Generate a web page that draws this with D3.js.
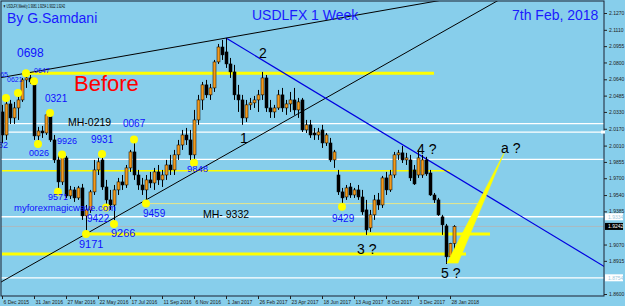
<!DOCTYPE html>
<html>
<head>
<meta charset="utf-8">
<script src="https://cdn.jsdelivr.net/npm/d3@7/dist/d3.min.js"></script>
<style>
  body { margin: 0; background: #87ceeb; overflow: hidden; }
  svg { display: block; font-family: "Liberation Sans", Arial, sans-serif; }
</style>
</head>
<body>
<div id="wrapper"></div>
<script>
// Weekly candles, first bar = week of 6 Dec 2015
const FIRST_WEEK = new Date(2015, 11, 6);
const opens = [
  2.0330, 2.0111, 2.0406, 2.0273, 2.0368, 2.0444, 2.0634, 2.0653, 2.0615, 2.0102,
  2.0149, 2.0130, 2.0302, 2.0064, 1.9874, 1.9665, 1.9893, 1.9532, 1.9589, 1.9513,
  1.9608, 1.9342, 1.9399, 1.9570, 1.9779, 1.9874, 1.9617, 1.9494, 1.9446, 1.9589,
  1.9665, 1.9636, 1.9798, 1.9950, 1.9731, 1.9636, 1.9589, 1.9684, 1.9655, 1.9760,
  1.9684, 1.9731, 1.9826, 1.9779, 1.9922, 2.0016, 2.0111, 2.0064, 1.9922, 2.0254,
  2.0444, 2.0587, 2.0492, 2.0558, 2.0805, 2.0947, 2.0900, 2.0786, 2.0710, 2.0492,
  2.0444, 2.0273, 2.0397, 2.0416, 2.0444, 2.0492, 2.0653, 2.0368, 2.0330, 2.0368,
  2.0492, 2.0368, 2.0406, 2.0444, 2.0349, 2.0444, 2.0159, 2.0207, 2.0130, 2.0111,
  2.0159, 2.0035, 2.0035, 1.9874, 1.9731, 1.9570, 1.9522, 1.9617, 1.9541, 1.9589,
  1.9522, 1.9399, 1.9228, 1.9352, 1.9494, 1.9446, 1.9703, 1.9589, 1.9731, 1.9922,
  1.9941, 1.9874, 1.9874, 1.9779, 1.9731, 1.9731, 1.9874, 1.9750, 1.9541, 1.9494,
  1.9333, 1.9247, 1.8953, 1.9081
];
const highs = [
  2.0397, 2.0463, 2.0444, 2.0425, 2.0511, 2.0653, 2.0700, 2.0681, 2.0625, 2.0188,
  2.0197, 2.0321, 2.0321, 2.0111, 1.9922, 1.9926, 1.9912, 1.9627, 1.9617, 1.9627,
  1.9646, 1.9446, 1.9589, 1.9874, 1.9893, 1.9931, 1.9684, 1.9589, 1.9636, 1.9703,
  1.9731, 1.9826, 1.9969, 2.0067, 1.9779, 1.9703, 1.9731, 1.9760, 1.9798, 1.9826,
  1.9779, 1.9874, 1.9922, 1.9969, 2.0064, 2.0159, 2.0178, 2.0159, 2.0349, 2.0492,
  2.0615, 2.0634, 2.0596, 2.0824, 2.0976, 2.1014, 2.1032, 2.0843, 2.0777, 2.0587,
  2.0492, 2.0444, 2.0463, 2.0482, 2.0539, 2.0710, 2.0681, 2.0444, 2.0397, 2.0539,
  2.0558, 2.0444, 2.0520, 2.0558, 2.0463, 2.0463, 2.0254, 2.0254, 2.0178, 2.0178,
  2.0207, 2.0130, 2.0083, 1.9969, 1.9779, 1.9608, 1.9636, 1.9655, 1.9608, 1.9636,
  1.9589, 1.9494, 1.9399, 1.9541, 1.9560, 1.9722, 1.9760, 1.9779, 1.9950, 1.9969,
  2.0007, 1.9941, 1.9922, 1.9826, 1.9969, 1.9922, 1.9903, 1.9779, 1.9560, 1.9513,
  1.9352, 1.9266, 1.9086, 1.9254
];
const lows = [
  2.0035, 2.0064, 2.0216, 2.0216, 2.0254, 2.0425, 2.0558, 2.0596, 2.0064, 2.0026,
  2.0083, 2.0111, 2.0045, 1.9845, 1.9571, 1.9636, 1.9513, 1.9503, 1.9475, 1.9494,
  1.9304, 1.9171, 1.9371, 1.9541, 1.9731, 1.9589, 1.9422, 1.9399, 1.9266, 1.9541,
  1.9589, 1.9608, 1.9760, 1.9684, 1.9589, 1.9541, 1.9459, 1.9608, 1.9589, 1.9636,
  1.9617, 1.9684, 1.9731, 1.9731, 1.9874, 1.9969, 2.0016, 1.9874, 1.9848, 2.0207,
  2.0349, 2.0463, 2.0444, 2.0520, 2.0786, 2.0824, 2.0748, 2.0653, 2.0444, 2.0330,
  2.0207, 2.0235, 2.0349, 2.0368, 2.0330, 2.0444, 2.0330, 2.0273, 2.0273, 2.0349,
  2.0330, 2.0302, 2.0330, 2.0302, 2.0273, 2.0140, 2.0130, 2.0083, 2.0064, 2.0064,
  1.9988, 2.0007, 1.9855, 1.9798, 1.9541, 1.9429, 1.9494, 1.9513, 1.9513, 1.9494,
  1.9352, 1.9162, 1.9190, 1.9304, 1.9399, 1.9418, 1.9541, 1.9570, 1.9703, 1.9874,
  1.9845, 1.9826, 1.9674, 1.9636, 1.9703, 1.9703, 1.9722, 1.9532, 1.9465, 1.9342,
  1.9162, 1.8885, 1.8904, 1.9022
];
const closes = [
  2.0111, 2.0406, 2.0273, 2.0368, 2.0444, 2.0634, 2.0653, 2.0615, 2.0102, 2.0149,
  2.0130, 2.0302, 2.0064, 1.9874, 1.9665, 1.9922, 1.9532, 1.9589, 1.9513, 1.9608,
  1.9342, 1.9399, 1.9570, 1.9779, 1.9855, 1.9617, 1.9494, 1.9446, 1.9589, 1.9665,
  1.9636, 1.9798, 1.9950, 1.9731, 1.9636, 1.9589, 1.9684, 1.9655, 1.9760, 1.9684,
  1.9731, 1.9826, 1.9779, 1.9922, 2.0016, 2.0111, 2.0064, 1.9922, 2.0254, 2.0444,
  2.0587, 2.0492, 2.0558, 2.0805, 2.0947, 2.0872, 2.0786, 2.0710, 2.0492, 2.0444,
  2.0273, 2.0397, 2.0416, 2.0444, 2.0492, 2.0653, 2.0368, 2.0330, 2.0368, 2.0492,
  2.0368, 2.0406, 2.0444, 2.0349, 2.0425, 2.0159, 2.0207, 2.0111, 2.0111, 2.0140,
  2.0035, 2.0111, 1.9874, 1.9950, 1.9570, 1.9513, 1.9608, 1.9541, 1.9589, 1.9522,
  1.9380, 1.9209, 1.9352, 1.9494, 1.9446, 1.9703, 1.9589, 1.9731, 1.9922, 1.9941,
  1.9874, 1.9893, 1.9703, 1.9646, 1.9893, 1.9874, 1.9741, 1.9541, 1.9494, 1.9352,
  1.9257, 1.8953, 1.9081, 1.9242
];

const priceTicks = [2.1270, 2.1110, 2.0955, 2.0800, 2.0640, 2.0485, 2.0330, 2.0170,
  2.0010, 1.9855, 1.9700, 1.9540, 1.9385, 1.9070, 1.8915, 1.8600];
const dateTickWeeks = d3.range(0, 114, 8);

// Horizontal levels
const whiteLevels = [2.0219, 2.0139, 1.9879, 1.9334, 1.8754];
const yellowLevels = [2.0698, 1.9771, 1.9459, 1.9171, 1.8979];
const yellowFrom = [6, 0, 36, 21, 0];
const yellowTo = [108, 112, 119, 122, 116];
const currentPrice = 1.9242;

// Trend lines as [week, price] pairs
const blackTrend1 = [[6, 2.0698], [56, 2.1032]];
const blackTrend2 = [[21, 1.9171], [100, 2.0872]];
const blueTrend = [[56, 2.1032], [100, 2.0022]];
const yellowWedge = [[111.25, 1.8894], [114, 1.8894], [125.5, 1.9939]];

// Swing points
const swingWeeks = [1, 4, 6, 8, 9, 12, 14, 15, 21, 25, 26, 28, 33, 36, 48, 85];
const swingPrices = [2.0463, 2.0511, 2.0698, 2.0621, 2.0026, 2.0321, 1.9571, 1.9926,
  1.9171, 1.9931, 1.9422, 1.9266, 2.0067, 1.9459, 1.9848, 1.9429];

// Price labels [text, week, price, size]
const blueLabels = [
  ["0698", 3.75, 2.0852, 12], ["0647", 8, 2.0700, 7], ["0621", 1.25, 2.0615, 7],
  ["0321", 10.75, 2.0425, 10], ["0026", 6.75, 1.9912, 9], ["9926", 13.75, 2.0026, 9],
  ["9931", 22.25, 2.0035, 10], ["0067", 30.25, 2.0188, 10], ["9571", 11.5, 1.9494, 9],
  ["9848", 46.25, 1.9760, 9.5], ["9422", 21.25, 1.9281, 10], ["9171", 19.25, 1.9038, 11],
  ["9266", 27.25, 1.9143, 11], ["9459", 35.25, 1.9333, 10], ["9429", 82.5, 1.9285, 10],
  ["myforexmagicwave.com", 3, 1.9390, 9.5]
];
const blueEndLabels = [["0665", 1.5, 2.0662, 7], ["0032", 1.5, 1.9988, 9]];
const blackLabels = [
  ["MH-0219", 16.5, 2.0197, 10.5], ["MH- 9332", 50.25, 1.9323, 10.5],
  ["2", 64.25, 2.0843, 14], ["1", 59.5, 2.0035, 14], ["4 ?", 103.75, 1.9931, 14],
  ["a ?", 124.75, 1.9941, 14], ["3 ?", 88.75, 1.8981, 14], ["5 ?", 109.75, 1.8753, 14]
];

const WIDTH = 625;
const HEIGHT = 306;
const plot = { left: 1, top: 1, right: 604, bottom: 296 };

const svg = d3.select("#wrapper").append("svg")
  .attr("width", WIDTH)
  .attr("height", HEIGHT);

svg.append("rect").attr("width", WIDTH).attr("height", HEIGHT).attr("fill", "#87ceeb");

svg.append("clipPath").attr("id", "plotClip")
  .append("rect")
  .attr("x", plot.left).attr("y", plot.top)
  .attr("width", plot.right - plot.left).attr("height", plot.bottom - plot.top);

const xScale = d3.scaleLinear().domain([0, 113]).range([2, 454]);
const yScale = d3.scaleLinear().domain([1.8600, 2.1270]).range([294, 13]);

const g = svg.append("g").attr("clip-path", "url(#plotClip)");

// Horizontal level lines
g.selectAll(".white-level")
  .data(whiteLevels)
  .join("line")
  .attr("x1", plot.left).attr("x2", plot.right)
  .attr("y1", d => yScale(d)).attr("y2", d => yScale(d))
  .attr("stroke", "#ffffff").attr("stroke-width", 1.3);

g.append("line")
  .attr("x1", plot.left).attr("x2", plot.right)
  .attr("y1", yScale(currentPrice)).attr("y2", yScale(currentPrice))
  .attr("stroke", "#b4b4b4").attr("stroke-width", 0.8);

const yellowWidths = [3, 1.5, 1, 3, 3];
const yellowColors = ["#ffff00", "#ffff00", "#e6e68a", "#ffff00", "#ffff00"];
g.selectAll(".yellow-level")
  .data(yellowLevels)
  .join("line")
  .attr("x1", (d, k) => Math.max(plot.left, xScale(yellowFrom[k])))
  .attr("x2", (d, k) => xScale(yellowTo[k]))
  .attr("y1", d => yScale(d)).attr("y2", d => yScale(d))
  .attr("stroke", (d, k) => yellowColors[k])
  .attr("stroke-width", (d, k) => yellowWidths[k]);

// Trend lines, extended across the frame
function extend(pair, fromWeek, toWeek) {
  const [[w1, p1], [w2, p2]] = pair;
  const slope = (p2 - p1) / (w2 - w1);
  return [fromWeek, toWeek].map(w => [xScale(w), yScale(p1 + slope * (w - w1))]);
}
const lineGen = d3.line();
g.append("path").attr("d", lineGen(extend(blackTrend1, -5, 160)))
  .attr("stroke", "#000").attr("stroke-width", 1).attr("fill", "none");
g.append("path").attr("d", lineGen(extend(blackTrend2, -5, 160)))
  .attr("stroke", "#000").attr("stroke-width", 1).attr("fill", "none");
g.append("path").attr("d", lineGen(extend(blueTrend, 56, 160)))
  .attr("stroke", "#0000e0").attr("stroke-width", 1.2).attr("fill", "none");

// Candles
const candles = d3.range(opens.length).map(i => ({
  i, o: opens[i], h: highs[i], l: lows[i], c: closes[i]
}));
const cg = g.append("g");
cg.selectAll(".wick")
  .data(candles)
  .join("line")
  .attr("x1", d => xScale(d.i) + 0.5).attr("x2", d => xScale(d.i) + 0.5)
  .attr("y1", d => yScale(d.h)).attr("y2", d => yScale(d.l))
  .attr("stroke", "#000").attr("stroke-width", 1);
cg.selectAll(".body")
  .data(candles)
  .join("rect")
  .attr("x", d => xScale(d.i) - 1)
  .attr("width", 3)
  .attr("y", d => yScale(Math.max(d.o, d.c)))
  .attr("height", d => Math.max(1, Math.abs(yScale(d.o) - yScale(d.c))))
  .attr("fill", d => d.c >= d.o ? "#f39a1c" : "#000")
  .attr("stroke", "#000").attr("stroke-width", 0.5);

// Yellow wedge
g.append("path")
  .attr("d", d3.line()(yellowWedge.map(([w, p]) => [xScale(w), yScale(p)])) + "Z")
  .attr("fill", "#ffff00").attr("stroke", "#ffff00").attr("stroke-width", 0.6);

// Swing dots
g.selectAll(".swing")
  .data(swingWeeks)
  .join("circle")
  .attr("cx", d => xScale(d))
  .attr("cy", (d, k) => yScale(swingPrices[k]))
  .attr("r", 4)
  .attr("fill", "#ffff00");

// Text annotations
const tg = svg.append("g");
tg.selectAll(".blue-label")
  .data(blueLabels)
  .join("text")
  .attr("x", d => xScale(d[1])).attr("y", d => yScale(d[2]))
  .attr("font-size", d => d[3])
  .attr("fill", "#1010ff")
  .text(d => d[0]);
tg.selectAll(".blue-end-label")
  .data(blueEndLabels)
  .join("text")
  .attr("x", d => xScale(d[1])).attr("y", d => yScale(d[2]))
  .attr("text-anchor", "end")
  .attr("font-size", d => d[3])
  .attr("fill", "#1010ff")
  .text(d => d[0]);
tg.selectAll(".black-label")
  .data(blackLabels)
  .join("text")
  .attr("x", d => xScale(d[1])).attr("y", d => yScale(d[2]))
  .attr("font-size", d => d[3])
  .attr("fill", "#000")
  .text(d => d[0]);

tg.append("text").attr("x", xScale(18)).attr("y", yScale(2.0529))
  .attr("font-size", 22).attr("fill", "#ff0000").text("Before");

// Titles
svg.append("text").attr("x", 7).attr("y", 23).attr("font-size", 14)
  .attr("fill", "#1a1aff").text("By G.Samdani");
svg.append("text").attr("x", 252).attr("y", 20).attr("font-size", 14)
  .attr("fill", "#1a1aff").text("USDLFX 1 Week");
svg.append("text").attr("x", 512).attr("y", 20).attr("font-size", 14)
  .attr("fill", "#1a1aff").text("7th Feb, 2018");
svg.append("text").attr("x", 3).attr("y", 7.5).attr("font-size", 5)
  .attr("textLength", 62).attr("lengthAdjust", "spacingAndGlyphs")
  .attr("fill", "#000")
  .text("\u25BC USDLFX,Weekly  1.9081 1.9254 1.9022 1.9242");

// Frame
svg.append("rect")
  .attr("x", plot.left).attr("y", plot.top)
  .attr("width", plot.right - plot.left).attr("height", plot.bottom - plot.top)
  .attr("fill", "none").attr("stroke", "#1a2030").attr("stroke-width", 1);

// Axes
const yAxis = d3.axisRight(yScale)
  .tickValues(priceTicks)
  .tickSize(3)
  .tickFormat(d3.format(".4f"));
svg.append("g")
  .attr("transform", `translate(${plot.right},0)`)
  .call(yAxis)
  .call(a => a.select(".domain").remove())
  .call(a => a.selectAll("line").attr("stroke", "#222"))
  .call(a => a.selectAll("text").attr("font-size", 5).attr("fill", "#222")
    .attr("x", 5).attr("font-family", "Liberation Sans, Arial"));

const weekFormat = d3.timeFormat("%-d %b %Y");
const xAxis = d3.axisBottom(xScale)
  .tickValues(dateTickWeeks)
  .tickSize(3)
  .tickFormat(w => weekFormat(d3.timeWeek.offset(FIRST_WEEK, w)));
svg.append("g")
  .attr("transform", `translate(0,${plot.bottom})`)
  .call(xAxis)
  .call(a => a.select(".domain").remove())
  .call(a => a.selectAll("line").attr("stroke", "#222"))
  .call(a => a.selectAll("text").attr("font-size", 5).attr("fill", "#222")
    .attr("text-anchor", "start").attr("x", 1).attr("y", 4)
    .attr("font-family", "Liberation Sans, Arial"));

// Price boxes on the axis
const boxLevels = [1.9334, currentPrice, 1.8754];
const bg = svg.append("g");
bg.selectAll("rect")
  .data(boxLevels)
  .join("rect")
  .attr("x", plot.right + 1).attr("width", 18)
  .attr("y", d => yScale(d) - 3.5).attr("height", 7)
  .attr("fill", d => d === currentPrice ? "#000" : "#fff");
bg.selectAll("text")
  .data(boxLevels)
  .join("text")
  .attr("x", plot.right + 4).attr("y", d => yScale(d) + 2)
  .attr("font-size", 5)
  .attr("fill", d => d === currentPrice ? "#fff" : "#9cc8dc")
  .text(d => d3.format(".4f")(d));
svg.append("rect")
  .attr("x", plot.right - 3).attr("y", yScale(2.0139) - 1.5)
  .attr("width", 4).attr("height", 3).attr("fill", "#fff");
</script>
</body>
</html>
